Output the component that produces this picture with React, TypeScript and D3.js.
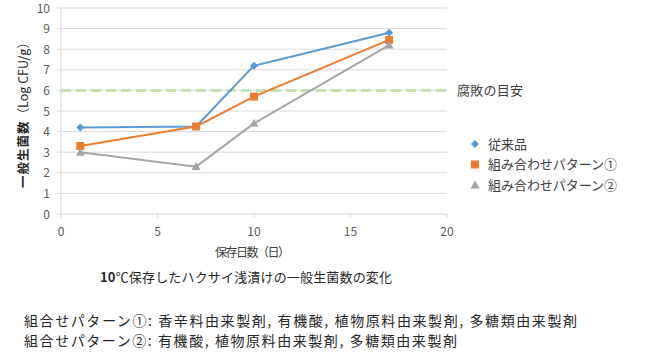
import React from "react";
import * as d3 from "d3";

const days = [1, 7, 10, 17];
const conventional = [4.2, 4.25, 7.2, 8.8];
const pattern1 = [3.3, 4.25, 5.7, 8.45];
const pattern2 = [3.0, 2.3, 4.4, 8.2];
const seriesNames = ["従来品", "組み合わせパターン①", "組み合わせパターン②"];
const xTicks = [0, 5, 10, 15, 20];
const yTicks = [0, 1, 2, 3, 4, 5, 6, 7, 8, 9, 10];
const threshold = 6;
const thresholdLabel = "腐敗の目安";
const footnotes = [
  "組合せパターン①: 香辛料由来製剤, 有機酸, 植物原料由来製剤, 多糖類由来製剤",
  "組合せパターン②: 有機酸, 植物原料由来製剤, 多糖類由来製剤",
];

const font = "'Noto Sans CJK JP', 'Noto Sans', sans-serif";

export default function App() {
  const W = 650, H = 356;
  const x = d3.scaleLinear().domain([0, 20]).range([61, 447]);
  const y = d3.scaleLinear().domain([0, 10]).range([214, 8]);
  const line = d3.line<number>().x((_, i) => x(days[i])).y((v) => y(v));
  const colors = ["#5b9bd5", "#ed7d31", "#a5a5a5"];
  const data = [conventional, pattern1, pattern2];
  const legendW = [39, 129, 129];
  const footW = [553, 433];

  const marker = (k: number, cx: number, cy: number, key: string) => {
    if (k === 0) {
      const s = 4;
      return <path key={key} d={`M${cx},${cy - s}L${cx + s},${cy}L${cx},${cy + s}L${cx - s},${cy}Z`} fill={colors[0]} />;
    }
    if (k === 1) {
      return <rect key={key} x={cx - 4} y={cy - 4} width={8} height={8} fill={colors[1]} />;
    }
    return <path key={key} d={`M${cx},${cy - 4.5}L${cx + 4.5},${cy + 3.5}L${cx - 4.5},${cy + 3.5}Z`} fill={colors[2]} />;
  };

  return (
    <div style={{ position: "absolute", left: 0, top: 0 }}>
      <svg width={W} height={H} style={{ display: "block", background: "#fff" }} fontFamily={font}>
        {yTicks.map((t) => (
          <g key={"y" + t}>
            {t > 0 && <line x1={61} x2={447} y1={y(t)} y2={y(t)} stroke="#d9d9d9" strokeWidth={1} />}
            <line x1={57} x2={61} y1={y(t)} y2={y(t)} stroke="#d9d9d9" />
            <text x={50} y={y(t) + 4.5} textAnchor="end" fontSize={12} fill="#595959">{t}</text>
          </g>
        ))}
        <line x1={61} x2={61} y1={y(10)} y2={y(0)} stroke="#d9d9d9" />
        <line x1={61} x2={447} y1={y(0)} y2={y(0)} stroke="#d9d9d9" />
        {xTicks.map((t) => (
          <g key={"x" + t}>
            <line x1={x(t)} x2={x(t)} y1={214} y2={218} stroke="#d9d9d9" />
            <text x={x(t)} y={232} dy="0.35em" textAnchor="middle" fontSize={12} fill="#595959">{t}</text>
          </g>
        ))}
        <line x1={61} x2={447} y1={y(threshold)} y2={y(threshold)} stroke="#c5e0b4" strokeWidth={3} strokeDasharray="10,5" />
        <text x={457} y={y(threshold)} dy="0.35em" fontSize={13} fill="#404040" textLength={66} lengthAdjust="spacing">{thresholdLabel}</text>
        {data.map((s, k) => (
          <g key={"s" + k}>
            <path d={line(s) || ""} fill="none" stroke={colors[k]} strokeWidth={2} />
            {s.map((v, i) => marker(k, x(days[i]), y(v), `m${k}-${i}`))}
          </g>
        ))}
        {seriesNames.map((n, k) => (
          <g key={"l" + k}>
            {marker(k, 475, 144 + k * 20.5, "lm" + k)}
            <text x={488} y={144 + k * 20.5} dy="0.35em" fontSize={13} fill="#404040" textLength={legendW[k]} lengthAdjust="spacing">{n}</text>
          </g>
        ))}
        <text transform={`translate(28,112) rotate(-90)`} textAnchor="middle" fontSize={12.5} fill="#262626">
          <tspan fontWeight="bold" letterSpacing={1}>一般生菌数</tspan>
          <tspan>（Log CFU/g）</tspan>
        </text>
        <text x={215} y={253} dy="0.35em" fontSize={12} fill="#404040" textLength={75} lengthAdjust="spacing">保存日数（日）</text>
        <text x={100} y={277} dy="0.35em" fontSize={13} fill="#262626" textLength={292} lengthAdjust="spacing">
          <tspan fontWeight="bold">10</tspan>℃保存したハクサイ浅漬けの一般生菌数の変化
        </text>
        {footnotes.map((f, i) => (
          <text key={"f" + i} x={24} y={321 + i * 20} dy="0.35em" fontSize={14} fill="#262626" textLength={footW[i]} lengthAdjust="spacing">{f}</text>
        ))}
      </svg>
    </div>
  );
}
